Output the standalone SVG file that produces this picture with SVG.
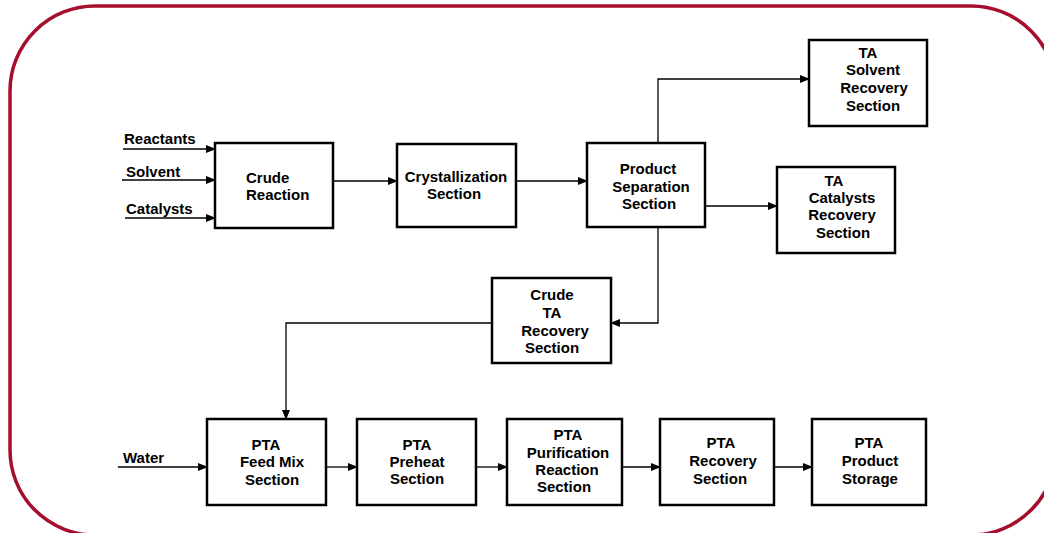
<svg xmlns="http://www.w3.org/2000/svg" width="1044" height="533" viewBox="0 0 1044 533">
<defs>
<marker id="ah" markerUnits="userSpaceOnUse" markerWidth="10" markerHeight="8" refX="9" refY="4" orient="auto">
<path d="M0,0 L10,4 L0,8 Z" fill="#000"/>
</marker>
<style>
.box{fill:#fff;stroke:#000;stroke-width:2.5}
.t{font-family:"Liberation Sans",Arial,sans-serif;font-weight:bold;font-size:15px;fill:#000;text-anchor:middle}
.l{font-family:"Liberation Sans",Arial,sans-serif;font-weight:bold;font-size:15px;fill:#000}
.c{fill:none;stroke:#000;stroke-width:1.3;marker-end:url(#ah)}
</style>
</defs>
<rect width="1044" height="533" fill="#fff"/>
<rect id="frame" x="10" y="6" width="1046" height="529" rx="85" ry="85" fill="none" stroke="#A50F2D" stroke-width="3.5"/>

<g id="connectors">
<path class="c" d="M123,149 H215"/>
<path class="c" d="M122,180 H215"/>
<path class="c" d="M125,218 H215"/>
<path class="c" d="M333,181 H397"/>
<path class="c" d="M516,181 H587"/>
<path class="c" d="M658,143 V79 H809"/>
<path class="c" d="M705,206 H777"/>
<path class="c" d="M658,227 V323 H611"/>
<path class="c" d="M492,323 H286 V419"/>
<path class="c" d="M118,467 H207"/>
<path class="c" d="M326,467 H357"/>
<path class="c" d="M476,467 H507"/>
<path class="c" d="M622,467 H660"/>
<path class="c" d="M774,467 H812"/>
</g>

<g id="labels">
<text class="l" x="124" y="144">Reactants</text>
<text class="l" x="126" y="177">Solvent</text>
<text class="l" x="126" y="214">Catalysts</text>
<text class="l" x="123" y="463">Water</text>
</g>

<g id="crude-reaction">
<rect class="box" x="215" y="143" width="118" height="85"/>
<text class="l" x="246" y="183">Crude</text>
<text class="l" x="246" y="200">Reaction</text>
</g>

<g id="crystallization">
<rect class="box" x="397" y="144" width="119" height="83"/>
<text class="t" x="456" y="182">Crystallization</text>
<text class="t" x="454" y="199">Section</text>
</g>

<g id="product-separation">
<rect class="box" x="587" y="143" width="118" height="84"/>
<text class="t" x="648" y="174">Product</text>
<text class="t" x="651" y="192">Separation</text>
<text class="t" x="649" y="209">Section</text>
</g>

<g id="ta-solvent-recovery">
<rect class="box" x="809" y="40" width="118" height="86"/>
<text class="t" x="868" y="58">TA</text>
<text class="t" x="873" y="75">Solvent</text>
<text class="t" x="874" y="93">Recovery</text>
<text class="t" x="873" y="111">Section</text>
</g>

<g id="ta-catalysts-recovery">
<rect class="box" x="777" y="167" width="118" height="86"/>
<text class="t" x="834" y="186">TA</text>
<text class="t" x="842" y="203">Catalysts</text>
<text class="t" x="842" y="220">Recovery</text>
<text class="t" x="843" y="238">Section</text>
</g>

<g id="crude-ta-recovery">
<rect class="box" x="492" y="278" width="119" height="85"/>
<text class="t" x="552" y="300">Crude</text>
<text class="t" x="552" y="318">TA</text>
<text class="t" x="555" y="336">Recovery</text>
<text class="t" x="552" y="353">Section</text>
</g>

<g id="pta-feed-mix">
<rect class="box" x="207" y="419" width="119" height="86"/>
<text class="t" x="266" y="450">PTA</text>
<text class="t" x="272" y="467">Feed Mix</text>
<text class="t" x="272" y="485">Section</text>
</g>

<g id="pta-preheat">
<rect class="box" x="357" y="419" width="119" height="86"/>
<text class="t" x="417" y="450">PTA</text>
<text class="t" x="417" y="467">Preheat</text>
<text class="t" x="417" y="484">Section</text>
</g>

<g id="pta-purification">
<rect class="box" x="507" y="419" width="115" height="86"/>
<text class="t" x="568" y="440">PTA</text>
<text class="t" x="568" y="458">Purification</text>
<text class="t" x="567" y="475">Reaction</text>
<text class="t" x="564" y="492">Section</text>
</g>

<g id="pta-recovery">
<rect class="box" x="660" y="419" width="114" height="86"/>
<text class="t" x="721" y="448">PTA</text>
<text class="t" x="723" y="466">Recovery</text>
<text class="t" x="720" y="484">Section</text>
</g>

<g id="pta-product-storage">
<rect class="box" x="812" y="419" width="114" height="86"/>
<text class="t" x="869" y="448">PTA</text>
<text class="t" x="870" y="466">Product</text>
<text class="t" x="870" y="484">Storage</text>
</g>
</svg>
